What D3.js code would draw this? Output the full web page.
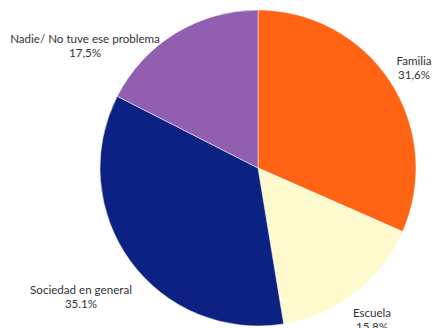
<!DOCTYPE html>
<html>
<head>
<meta charset="utf-8">
<script src="https://cdn.jsdelivr.net/npm/d3@7"></script>
<style>
  html, body { margin: 0; padding: 0; background: #fff; }
  svg { display: block; }
  text { font-family: Lato, "Open Sans", sans-serif; font-size: 11.6px; fill: #333; }
</style>
</head>
<body>
<svg id="chart" width="434" height="328"></svg>
<script>
// Pie slices, clockwise from 12 o'clock
const categories = ["Familia", "Escuela", "Sociedad en general", "Nadie/ No tuve ese problema"];
const values = [31.6, 15.8, 35.1, 17.5];
const valueLabels = ["31,6%", "15,8%", "35.1%", "17,5%"];
const colors = ["#FF6414", "#FFFACD", "#0C2283", "#925FB0"];

// Label anchor points (centre of text block, first baseline)
const labelPos = [[414, 65], [372, 317], [81, 294], [85, 43]];

const svg = d3.select("#chart");
const cx = 258, cy = 168, r = 158;

const pie = d3.pie().sort(null).value(d => d.value);
const arc = d3.arc().innerRadius(0).outerRadius(r);

const data = categories.map((c, i) => ({ name: c, value: values[i], label: valueLabels[i], color: colors[i], pos: labelPos[i] }));

const g = svg.append("g").attr("transform", `translate(${cx},${cy})`);
g.selectAll("path")
  .data(pie(data))
  .join("path")
  .attr("d", arc)
  .attr("fill", d => d.data.color)
  .attr("stroke", "#fff")
  .attr("stroke-width", 0.5);

const labels = svg.selectAll("text.lbl")
  .data(data)
  .join("text")
  .attr("class", "lbl")
  .attr("text-anchor", "middle")
  .attr("x", d => d.pos[0])
  .attr("y", d => d.pos[1]);
labels.append("tspan").attr("x", d => d.pos[0]).text(d => d.name);
labels.append("tspan").attr("x", d => d.pos[0]).attr("dy", 14).text(d => d.label);
</script>
</body>
</html>
